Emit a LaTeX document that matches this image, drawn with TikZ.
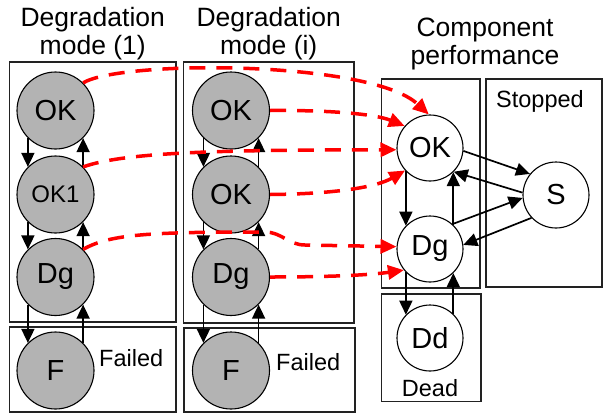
\documentclass[tikz,border=0pt]{standalone}
\usepackage{fontspec}
\setmainfont{Liberation Sans}
\usetikzlibrary{arrows.meta}
\definecolor{stategray}{RGB}{179,179,179}
\definecolor{boxline}{RGB}{34,34,34}
\begin{document}
\begin{tikzpicture}[x=1pt,y=-1pt,
  region/.style={draw=boxline,line width=1.4pt},
  gstate/.style={circle,draw=black,line width=1.1pt,fill=stategray,minimum size=77pt,inner sep=0pt,font=\fontsize{29}{30}\selectfont},
  wstate/.style={circle,draw=black,line width=1.1pt,fill=white,minimum size=66pt,inner sep=0pt,font=\fontsize{29}{30}\selectfont},
  trans/.style={draw=black,line width=1.7pt,-{Triangle[length=14pt,width=13pt]}},
  link/.style={draw=red,line width=3.5pt,dash pattern=on 16pt off 11pt,-{Triangle[length=16pt,width=14pt]}},
  title/.style={align=center,inner sep=0pt,anchor=north,font=\fontsize{26.5}{28}\selectfont},
  regionlabel/.style={inner sep=0pt,anchor=base west,font=\fontsize{23.5}{24}\selectfont}
]
\useasboundingbox (0,0) rectangle (604,415);
% boxes
\draw[region] (9.5,62) rectangle (176,322);
\draw[region] (9.5,327) rectangle (176,412);
\draw[region] (183.5,62) rectangle (354,323);
\draw[region] (184,328) rectangle (355,412);
\draw[region] (381.5,79) rectangle (480,288);
\draw[region] (486,79) rectangle (602,287);
\draw[region] (381.5,294) rectangle (481,401.5);
% titles
\node[title] (tA) at (92.75,7.5) {Degradation\\mode (1)};
\node[title] (tB) at (268.75,7.5) {Degradation\\mode (i)};
\node[title] (tC) at (485,18) {Component\\performance};
% region labels
\node[regionlabel] (failA) at (99,366) {Failed};
\node[regionlabel] (failB) at (276,370) {Failed};
\node[regionlabel] (stopC) at (496,107) {Stopped};
\node[regionlabel] (deadC) at (401.7,396.7) {Dead};
% states
\node[gstate] (okA) at (55.5,110.5) {OK};
\node[gstate,font=\fontsize{24}{25}\selectfont] (okoneA) at (55.5,194.5) {OK1};
\node[gstate] (dgA) at (55.5,277) {Dg};
\node[gstate] (fA) at (55.5,370.5) {F};
\node[gstate] (okB) at (231,110.5) {OK};
\node[gstate] (okbB) at (231,194.5) {OK};
\node[gstate] (dgB) at (231,277) {Dg};
\node[gstate] (fB) at (231,370.5) {F};
\node[wstate] (okC) at (430,148) {OK};
\node[wstate] (dgC) at (430,249) {Dg};
\node[wstate] (ddC) at (430,338) {Dd};
\node[wstate] (sC) at (556,195) {S};
% black transitions
\foreach \u/\v in {okA/okoneA,okoneA/dgA,dgA/fA,okB/okbB,okbB/dgB,dgB/fB}{
  \draw[trans] (\u.-135) -- (\v.135);
  \draw[trans] (\v.45) -- (\u.-45);
}
\foreach \u/\v in {okC/dgC,dgC/ddC}{
  \draw[trans] (\u.-136) -- (\v.136);
  \draw[trans] (\v.46) -- (\u.-46);
}
\draw[trans] (okC.-5) -- (sC.141);
\draw[trans] (sC.176) -- (okC.-45);
\draw[trans] (dgC.48) -- (sC.185);
\draw[trans] (sC.-137) -- (dgC.7);
% red links
\draw[link] (okA.45) .. controls (120,60) and (370,60) .. (okC.92);
\draw[link] (okB.east) .. controls (330,110) and (375,114) .. (okC.139);
\draw[link] (okoneA.45) .. controls (125,152) and (220,150) .. (okC.183);
\draw[link] (okbB.east) .. controls (330,194) and (375,188) .. (okC.-138);
\draw[link] (dgA.45) .. controls (110,234) and (150,232) .. (265,232) to[out=0,in=180] (305,245) -- (dgC.176);
\draw[link] (dgB.east) .. controls (330,277) and (370,275) .. (dgC.-141);
\end{tikzpicture}
\end{document}
